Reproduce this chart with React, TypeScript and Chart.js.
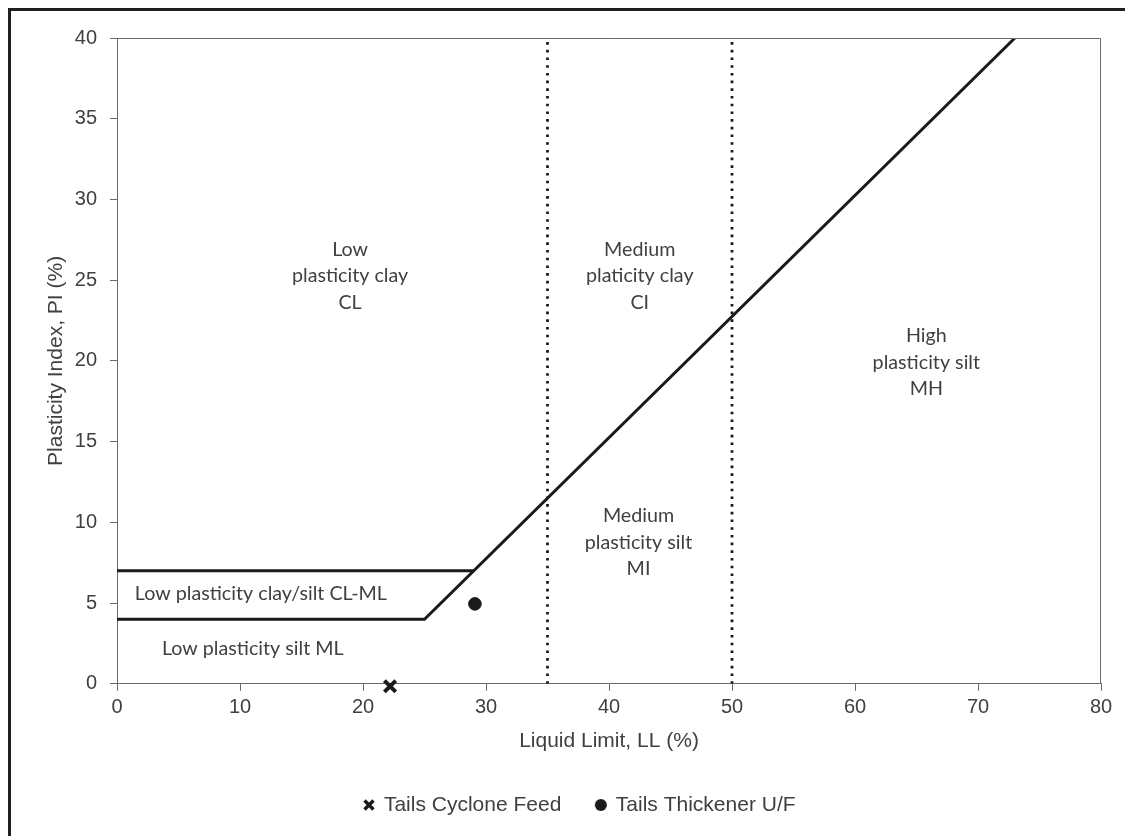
import { useEffect, useRef } from "react";
import { Chart, registerables } from "chart.js";

Chart.register(...registerables);

// ---- data ----
const xTitle = "Liquid Limit, LL (%)";
const yTitle = "Plasticity Index, PI (%)";

// A-line with low plasticity silt boundary (LL, PI)
const aLineLL = [0, 25, 73];
const aLinePI = [4, 4, 40];
// CL-ML upper boundary
const clmlLL = [0, 29];
const clmlPI = [7, 7];
// vertical dotted dividers
const dividerLL = [35, 50];
const dividerPI = [0, 40];

// samples
const seriesNames = ["Tails Cyclone Feed", "Tails Thickener U/F"];
const cycloneLL = [22.2];
const cyclonePI = [-0.15];
const thickenerLL = [29.1];
const thickenerPI = [4.95];

// region labels
const regionText = [
  "Low\nplasticity clay\nCL",
  "Medium\nplaticity clay\nCI",
  "High\nplasticity silt\nMH",
  "Medium\nplasticity silt\nMI",
  "Low plasticity clay/silt CL-ML",
  "Low plasticity silt ML",
];
const regionLL = [18.95, 42.5, 65.8, 42.4, 1.45, 3.65];
const regionPI = [25.25, 25.25, 19.9, 8.75, 5.58, 2.17];
const regionAlign = ["center", "center", "center", "center", "left", "left"];

const AXIS_COLOR = "#6a6a6a";
const TEXT_COLOR = "#404040";
const MARK_COLOR = "#1a1a1a";
const SANS = "'Liberation Sans', Arial, sans-serif";

function toPoints(xs: number[], ys: number[]) {
  return xs.map((v, i) => ({ x: v, y: ys[i] }));
}

function makeGlyph(kind: "x" | "dot") {
  const c = document.createElement("canvas");
  c.width = 14;
  c.height = 14;
  const g = c.getContext("2d")!;
  g.strokeStyle = MARK_COLOR;
  g.fillStyle = MARK_COLOR;
  if (kind === "x") {
    g.lineWidth = 3.4;
    g.beginPath();
    g.moveTo(2.5, 2.5);
    g.lineTo(11.5, 11.5);
    g.moveTo(11.5, 2.5);
    g.lineTo(2.5, 11.5);
    g.stroke();
  } else {
    g.beginPath();
    g.arc(7, 7, 6, 0, Math.PI * 2);
    g.fill();
  }
  return c;
}

const annotatePlugin = {
  id: "annotate",
  afterLayout(chart: any) {
    const lg = chart.legend;
    if (!lg) return;
    const targetCenter = 794;
    const dy = targetCenter - (lg.top + 35 + 10.5);
    lg.top += dy;
    lg.bottom += dy;
    lg.left += 24;
    lg.right += 24;
  },
  afterDatasetsDraw(chart: any) {
    const { ctx, chartArea, scales } = chart;
    const x = scales.x;
    const y = scales.y;
    ctx.save();
    ctx.strokeStyle = AXIS_COLOR;
    ctx.lineWidth = 1;
    ctx.beginPath();
    ctx.moveTo(chartArea.left, chartArea.top + 0.5);
    ctx.lineTo(chartArea.right - 0.5, chartArea.top + 0.5);
    ctx.lineTo(chartArea.right - 0.5, chartArea.bottom);
    ctx.stroke();
    ctx.fillStyle = TEXT_COLOR;
    ctx.font = "19.7px Lato, 'Open Sans', sans-serif";
    ctx.textBaseline = "middle";
    const lineH = 26.5;
    regionText.forEach((t, i) => {
      const lines = t.split("\n");
      const cx = x.getPixelForValue(regionLL[i]);
      const cy = y.getPixelForValue(regionPI[i]);
      ctx.textAlign = regionAlign[i] as CanvasTextAlign;
      lines.forEach((ln, j) => {
        ctx.fillText(ln, cx, cy + (j - (lines.length - 1) / 2) * lineH);
      });
    });
    ctx.restore();
  },
};

export default function App() {
  const ref = useRef<HTMLCanvasElement | null>(null);

  useEffect(() => {
    if (!ref.current) return;
    const glyphs = [makeGlyph("x"), makeGlyph("dot")];
    const lineBase = {
      type: "line",
      showLine: true,
      pointRadius: 0,
      pointHoverRadius: 0,
      borderColor: MARK_COLOR,
      fill: false,
      tension: 0,
    };
    const chart = new Chart(ref.current, {
      type: "scatter",
      data: {
        datasets: [
          { ...lineBase, label: "", data: toPoints(aLineLL, aLinePI), borderWidth: 3 },
          { ...lineBase, label: "", data: toPoints(clmlLL, clmlPI), borderWidth: 3 },
          {
            ...lineBase,
            label: "",
            data: toPoints([dividerLL[0], dividerLL[0]], dividerPI),
            borderWidth: 2.8,
            borderDash: [2.6, 5.1],
          },
          {
            ...lineBase,
            label: "",
            data: toPoints([dividerLL[1], dividerLL[1]], dividerPI),
            borderWidth: 2.8,
            borderDash: [2.6, 5.1],
          },
          {
            label: seriesNames[0],
            data: toPoints(cycloneLL, cyclonePI),
            pointStyle: "crossRot",
            pointRadius: 8,
            pointBorderWidth: 4,
            borderWidth: 4,
            borderColor: MARK_COLOR,
            backgroundColor: MARK_COLOR,
            clip: false,
          },
          {
            label: seriesNames[1],
            data: toPoints(thickenerLL, thickenerPI),
            pointStyle: "circle",
            pointRadius: 6.3,
            borderWidth: 1,
            borderColor: MARK_COLOR,
            backgroundColor: MARK_COLOR,
            clip: false,
          },
        ] as any,
      },
      options: {
        animation: false,
        responsive: false,
        maintainAspectRatio: false,
        layout: { padding: { top: 27, right: 32, left: 0, bottom: 5 } },
        plugins: {
          tooltip: { enabled: false },
          legend: {
            position: "bottom",
            labels: {
              generateLabels: (ch: any) => {
                const base = (Chart.defaults.plugins.legend.labels as any).generateLabels(ch);
                return base
                  .filter((it: any) => it.datasetIndex >= 4)
                  .map((it: any) => ({ ...it, pointStyle: glyphs[it.datasetIndex - 4] }));
              },
              usePointStyle: true,
              boxWidth: 9,
              boxHeight: 9,
              padding: 35,
              color: TEXT_COLOR,
              font: { family: SANS, size: 21 },
            },
          },
        },
        scales: {
          x: {
            type: "linear",
            min: 0,
            max: 80,
            ticks: {
              stepSize: 10,
              color: TEXT_COLOR,
              padding: 5,
              font: { family: SANS, size: 20 },
            },
            grid: { drawOnChartArea: false, drawTicks: true, tickLength: 7, color: AXIS_COLOR },
            border: { display: true, color: AXIS_COLOR, width: 1 },
            title: {
              display: true,
              text: xTitle,
              color: TEXT_COLOR,
              font: { family: SANS, size: 21 },
              padding: { top: 4, bottom: 11 },
            },
          },
          y: {
            type: "linear",
            min: 0,
            max: 40,
            ticks: {
              stepSize: 5,
              color: TEXT_COLOR,
              padding: 13,
              font: { family: SANS, size: 20 },
            },
            grid: { drawOnChartArea: false, drawTicks: true, tickLength: 7, color: AXIS_COLOR },
            border: { display: true, color: AXIS_COLOR, width: 1 },
            title: {
              display: true,
              text: yTitle,
              color: TEXT_COLOR,
              font: { family: SANS, size: 21 },
              padding: { top: 33, bottom: 0 },
            },
            afterFit: (scale: any) => {
              scale.width = 106;
            },
          },
        },
      } as any,
      plugins: [annotatePlugin],
    });
    return () => chart.destroy();
  }, []);

  return (
    <div
      style={{
        borderTop: "3px solid #1e1e1e",
        borderLeft: "3px solid #1e1e1e",
        width: 1122,
        height: 825,
        overflow: "hidden",
      }}
    >
      <canvas ref={ref} width={1122} height={825} style={{ display: "block" }} />
    </div>
  );
}
